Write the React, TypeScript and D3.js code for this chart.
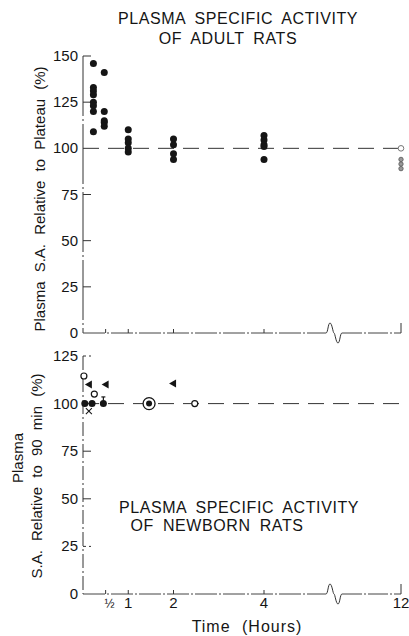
import * as d3 from "d3";

// time points (hours) and values
const adultColumns = [
  { t: 0.23, values: [146, 133, 131, 129, 125, 123, 120, 109] },
  { t: 0.47, values: [141, 120, 115, 114, 112] },
  { t: 1, values: [110, 105, 103, 100, 98] },
  { t: 2, values: [105, 102, 97, 94] },
  { t: 4, values: [107, 104.5, 102, 101, 94] },
];
const adult12Open = [100];
const adult12Small = [94, 91.5, 89];

const newbornFilled = [
  { t: 0.04, v: 100 },
  { t: 0.2, v: 100 },
  { t: 0.45, v: 100 },
];
const newbornOpen = [
  { t: 0.02, v: 114.5 },
  { t: 0.25, v: 105 },
  { t: 2.47, v: 100 },
];
const newbornTriangles = [
  { t: 0.13, v: 110 },
  { t: 0.5, v: 110 },
  { t: 1.99, v: 110.5 },
];
const newbornCross = [{ t: 0.13, v: 96 }];
const newbornBullseye = [{ t: 1.46, v: 100 }];
const newbornErrorBar = [{ t: 0.45, lo: 100, hi: 103.5 }];

const adultTicks = [0, 25, 50, 75, 100, 125, 150];
const newbornTicks = [0, 25, 50, 75, 100, 125];
const timeTicks = [0.5, 1, 2, 4, 12];
const timeLabels = ["½", "1", "2", "4", "12"];
const axisBreak = 8;

const W = 409;
const H = 636;
const FONT = "'Liberation Sans', Arial, sans-serif";
const INK = "#151515";

const x = d3.scaleLinear().domain([0, 4, 8, 12]).range([83, 264, 334, 401]);
const yTop = d3.scaleLinear().domain([0, 150]).range([333, 56]);
const yBot = d3.scaleLinear().domain([0, 125]).range([594, 356]);

function breakPath(cx: number, cy: number, up: number, down: number) {
  return `M${cx - 8},${cy} C${cx - 6},${cy} ${cx - 6},${cy - up} ${cx - 4},${cy - up} C${cx - 2},${cy - up} ${cx - 1},${cy} ${cx},${cy} C${cx + 1},${cy} ${cx + 2},${cy + down} ${cx + 4},${cy + down} C${cx + 6},${cy + down} ${cx + 6},${cy} ${cx + 8},${cy}`;
}

function Axes({ y, ticks, dash }: { y: d3.ScaleLinear<number, number>; ticks: number[]; dash: string }) {
  const x0 = x(0);
  const yb = y(0);
  const bx = x(axisBreak);
  return (
    <g>
      <line x1={x0} x2={x0} y1={y(ticks[ticks.length - 1])} y2={yb} stroke="#333" strokeWidth={1} strokeDasharray={dash} />
      {ticks.map((t) => (
        <g key={t}>
          {t > 0 && t !== 100 && (
            <line x1={x0} x2={x0 + 8} y1={y(t)} y2={y(t)} stroke="#333" strokeWidth={1}
              strokeDasharray={t === 125 || t === 25 ? (y === yBot ? "3,3" : "") : ""} />
          )}
          <text x={78} y={y(t) + 5} textAnchor="end" fontSize={15} fontFamily={FONT} fill={INK}>
            {t}
          </text>
        </g>
      ))}
      {/* baseline with break */}
      <line x1={x0} x2={bx - 8} y1={yb} y2={yb} stroke="#444" strokeWidth={1} strokeDasharray="22,2,2,2" />
      <path d={breakPath(bx, yb, 10, 10)} fill="none" stroke="#333" strokeWidth={1} />
      <line x1={bx + 8} x2={x(12)} y1={yb} y2={yb} stroke="#444" strokeWidth={1} strokeDasharray="20,2,2,2" />
      {timeTicks.map((t) => (
        <line key={t} x1={x(t)} x2={x(t)} y1={yb} y2={yb - (t === 12 ? 10 : 4)} stroke="#333" strokeWidth={1} />
      ))}
      {/* 100 % reference line */}
      <line x1={x0} x2={x(12) - 2} y1={y(100)} y2={y(100)} stroke="#333" strokeWidth={1} strokeDasharray="16,9" />
    </g>
  );
}

function triangle(cx: number, cy: number) {
  return `M${cx - 4},${cy} L${cx + 3},${cy - 4} L${cx + 3},${cy + 4} Z`;
}

export default function App() {
  return (
    <svg width={W} height={H} style={{ display: "block", position: "absolute", left: 0, top: 0, background: "#fff" }}>
      <rect width={W} height={H} fill="#fff" />

      {/* ---------- adult panel ---------- */}
      <text x={238} y={24} textAnchor="middle" fontSize={16} letterSpacing={0.6} wordSpacing={4} fontFamily={FONT} fill={INK}>
        PLASMA SPECIFIC ACTIVITY
      </text>
      <text x={228} y={44} textAnchor="middle" fontSize={16} letterSpacing={0.6} wordSpacing={4} fontFamily={FONT} fill={INK}>
        OF ADULT RATS
      </text>
      <text transform={`translate(45,199) rotate(-90)`} textAnchor="middle" fontSize={15} wordSpacing={5} fontFamily={FONT} fill={INK}>
        Plasma S.A. Relative to Plateau (%)
      </text>
      <Axes y={yTop} ticks={adultTicks} dash="60,3,2,3" />
      {adultColumns.map((c) =>
        c.values.map((v, i) => <circle key={`${c.t}-${i}`} cx={x(c.t)} cy={yTop(v)} r={3.5} fill={INK} />)
      )}
      {adult12Open.map((v) => (
        <circle key={v} cx={x(12)} cy={yTop(v)} r={2.8} fill="#fff" stroke="#777" strokeWidth={1} />
      ))}
      {adult12Small.map((v) => (
        <circle key={v} cx={x(12)} cy={yTop(v)} r={2.2} fill="#999" stroke="#555" strokeWidth={0.8} />
      ))}

      {/* ---------- newborn panel ---------- */}
      <text x={239} y={513} textAnchor="middle" fontSize={16} letterSpacing={0.6} wordSpacing={4} fontFamily={FONT} fill={INK}>
        PLASMA SPECIFIC ACTIVITY
      </text>
      <text x={217} y={531} textAnchor="middle" fontSize={16} letterSpacing={0.6} wordSpacing={4} fontFamily={FONT} fill={INK}>
        OF NEWBORN RATS
      </text>
      <text transform={`translate(23,458) rotate(-90)`} textAnchor="middle" fontSize={15} fontFamily={FONT} fill={INK}>
        Plasma
      </text>
      <text transform={`translate(42,476) rotate(-90)`} textAnchor="middle" fontSize={15} wordSpacing={5} fontFamily={FONT} fill={INK}>
        S.A. Relative to 90 min (%)
      </text>
      <Axes y={yBot} ticks={newbornTicks} dash="14,3,2,3" />
      {newbornErrorBar.map((d) => (
        <g key={d.t} stroke={INK} strokeWidth={1.2}>
          <line x1={x(d.t)} x2={x(d.t)} y1={yBot(d.lo)} y2={yBot(d.hi)} />
          <line x1={x(d.t) - 2} x2={x(d.t) + 2} y1={yBot(d.hi)} y2={yBot(d.hi)} />
        </g>
      ))}
      {newbornFilled.map((d) => (
        <circle key={d.t} cx={x(d.t)} cy={yBot(d.v)} r={3.5} fill={INK} />
      ))}
      {newbornOpen.map((d) => (
        <circle key={d.t} cx={x(d.t)} cy={yBot(d.v)} r={3} fill="#fff" stroke={INK} strokeWidth={1.2} />
      ))}
      {newbornTriangles.map((d) => (
        <path key={d.t} d={triangle(x(d.t), yBot(d.v))} fill={INK} />
      ))}
      {newbornCross.map((d) => (
        <g key={d.t} stroke={INK} strokeWidth={1.1}>
          <line x1={x(d.t) - 3} x2={x(d.t) + 3} y1={yBot(d.v) - 3} y2={yBot(d.v) + 3} />
          <line x1={x(d.t) + 3} x2={x(d.t) - 3} y1={yBot(d.v) - 3} y2={yBot(d.v) + 3} />
        </g>
      ))}
      {newbornBullseye.map((d) => (
        <g key={d.t}>
          <circle cx={x(d.t)} cy={yBot(d.v)} r={6} fill="#fff" stroke={INK} strokeWidth={1.3} />
          <circle cx={x(d.t)} cy={yBot(d.v)} r={3} fill={INK} />
        </g>
      ))}

      {/* time axis labels */}
      {timeTicks.map((t, i) => (
        <text key={t} x={x(t) + (t === 0.5 ? 4 : 0)} y={608} textAnchor="middle" fontSize={t === 0.5 ? 12 : 15} fontFamily={FONT} fill={INK}>
          {timeLabels[i]}
        </text>
      ))}
      <text x={247} y={632} textAnchor="middle" fontSize={16} letterSpacing={1} wordSpacing={6} fontFamily={FONT} fill={INK}>
        Time (Hours)
      </text>
    </svg>
  );
}
